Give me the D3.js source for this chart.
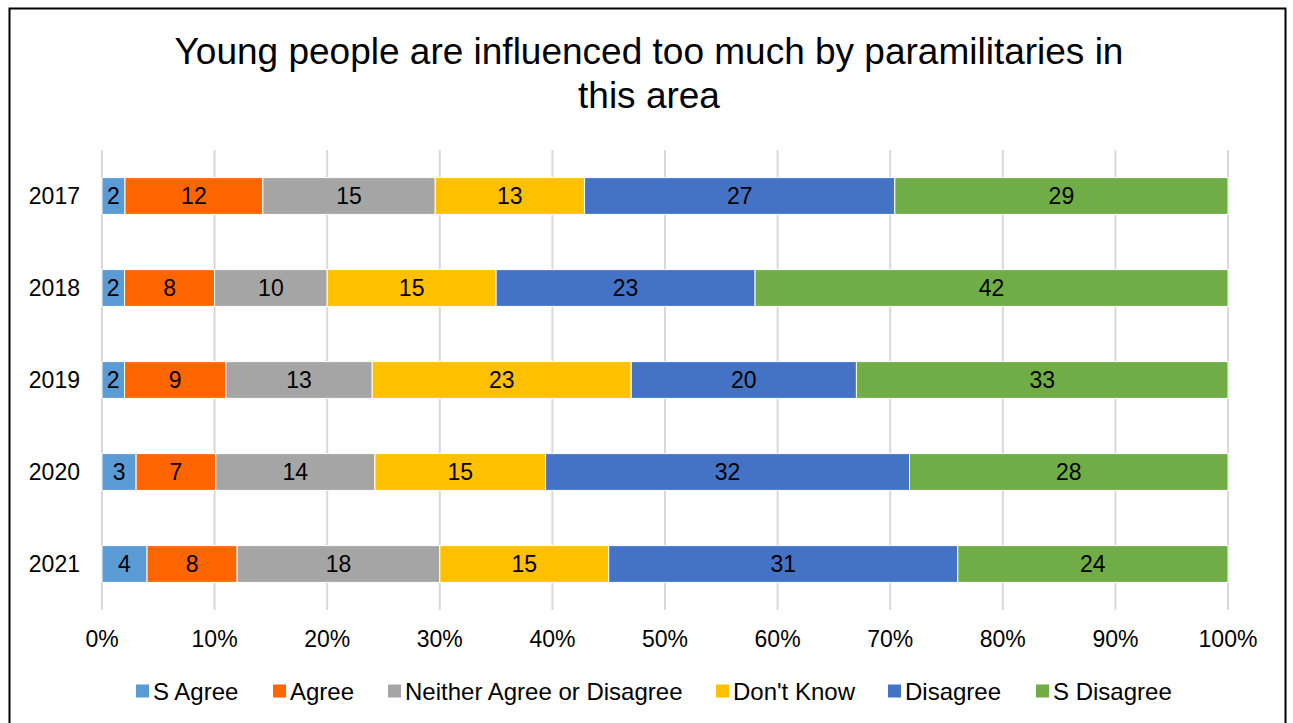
<!DOCTYPE html>
<html>
<head>
<meta charset="utf-8">
<script src="https://cdn.jsdelivr.net/npm/d3@7"></script>
<style>
  body { margin: 0; background: #fff; }
  svg { display: block; font-family: "Liberation Sans", Arial, sans-serif; }
</style>
</head>
<body>
<div id="chart"></div>
<script>
// Chart data
const years = ["2017", "2018", "2019", "2020", "2021"];
const seriesNames = ["S Agree", "Agree", "Neither Agree or Disagree", "Don't Know", "Disagree", "S Disagree"];
const sAgree    = [2, 2, 2, 3, 4];
const agree     = [12, 8, 9, 7, 8];
const neither   = [15, 10, 13, 14, 18];
const dontKnow  = [13, 15, 23, 15, 15];
const disagree  = [27, 23, 20, 32, 31];
const sDisagree = [29, 42, 33, 28, 24];
const colors = ["#5b9bd5", "#ff6600", "#a5a5a5", "#ffc000", "#4472c4", "#70ad47"];
const xTicks = [0, 0.1, 0.2, 0.3, 0.4, 0.5, 0.6, 0.7, 0.8, 0.9, 1];

const width = 1293;
const height = 723;
const marginTop = 150;
const marginRight = 65;
const marginBottom = 113;
const marginLeft = 102;

const svg = d3.select("#chart")
  .append("svg")
    .attr("width", width)
    .attr("height", height)
    .attr("viewBox", [0, 0, width, height]);

// Outer frame
svg.append("rect")
    .attr("x", 9.5)
    .attr("y", 8.5)
    .attr("width", 1276)
    .attr("height", 730)
    .attr("fill", "none")
    .attr("stroke", "#000")
    .attr("stroke-width", 2);

// Title
const title = svg.append("text")
    .attr("text-anchor", "middle")
    .attr("font-size", 37)
    .attr("fill", "#000");
title.append("tspan").attr("x", 649).attr("y", 64)
    .text("Young people are influenced too much by paramilitaries in");
title.append("tspan").attr("x", 649).attr("y", 108)
    .text("this area");

// Build rows and normalise each year to 100%
const seriesValues = [sAgree, agree, neither, dontKnow, disagree, sDisagree];
const rows = years.map((y, i) => {
  const row = {year: y};
  seriesNames.forEach((s, j) => row[s] = seriesValues[j][i]);
  return row;
});

const stacked = d3.stack()
    .keys(seriesNames)
    .offset(d3.stackOffsetExpand)(rows);

const x = d3.scaleLinear()
    .domain([0, 1])
    .range([marginLeft, width - marginRight]);

const y = d3.scaleBand()
    .domain(years)
    .range([marginTop, height - marginBottom])
    .paddingInner(0.6)
    .paddingOuter(0.3);

// Gridlines
svg.append("g")
  .selectAll("line")
  .data(xTicks)
  .join("line")
    .attr("x1", d => x(d))
    .attr("x2", d => x(d))
    .attr("y1", marginTop)
    .attr("y2", height - marginBottom)
    .attr("stroke", "#d9d9d9")
    .attr("stroke-width", 2);

// Bars
const layer = svg.append("g")
  .selectAll("g")
  .data(stacked)
  .join("g")
    .attr("fill", (d, i) => colors[i]);

layer.selectAll("rect")
  .data(d => d)
  .join("rect")
    .attr("x", d => x(d[0]))
    .attr("y", d => y(d.data.year))
    .attr("width", d => x(d[1]) - x(d[0]))
    .attr("height", y.bandwidth())
    .attr("stroke", "#fff")
    .attr("stroke-width", 1);

// Data labels
layer.selectAll("text")
  .data((d, i) => d.map(v => ({v, key: d.key})))
  .join("text")
    .attr("x", d => (x(d.v[0]) + x(d.v[1])) / 2)
    .attr("y", d => y(d.v.data.year) + y.bandwidth() / 2)
    .attr("dy", "0.36em")
    .attr("text-anchor", "middle")
    .attr("font-size", 23)
    .attr("fill", "#000")
    .text(d => d.v.data[d.key]);

// Y axis labels
svg.append("g")
  .selectAll("text")
  .data(years)
  .join("text")
    .attr("x", 80)
    .attr("y", d => y(d) + y.bandwidth() / 2)
    .attr("dy", "0.36em")
    .attr("text-anchor", "end")
    .attr("font-size", 23)
    .attr("fill", "#000")
    .text(d => d);

// X axis labels
svg.append("g")
  .selectAll("text")
  .data(xTicks)
  .join("text")
    .attr("x", d => x(d))
    .attr("y", 639)
    .attr("dy", "0.36em")
    .attr("text-anchor", "middle")
    .attr("font-size", 23)
    .attr("fill", "#000")
    .text(d => d3.format(".0%")(d));

// Legend
const legendX = [136, 273, 388, 716, 888, 1036];
const legend = svg.append("g")
  .selectAll("g")
  .data(seriesNames)
  .join("g")
    .attr("transform", (d, i) => `translate(${legendX[i]},691)`);

legend.append("rect")
    .attr("x", 0)
    .attr("y", -6.5)
    .attr("width", 13)
    .attr("height", 13)
    .attr("fill", (d, i) => colors[i]);

legend.append("text")
    .attr("x", 17)
    .attr("dy", "0.36em")
    .attr("font-size", 24)
    .attr("fill", "#000")
    .text(d => d);
</script>
</body>
</html>
